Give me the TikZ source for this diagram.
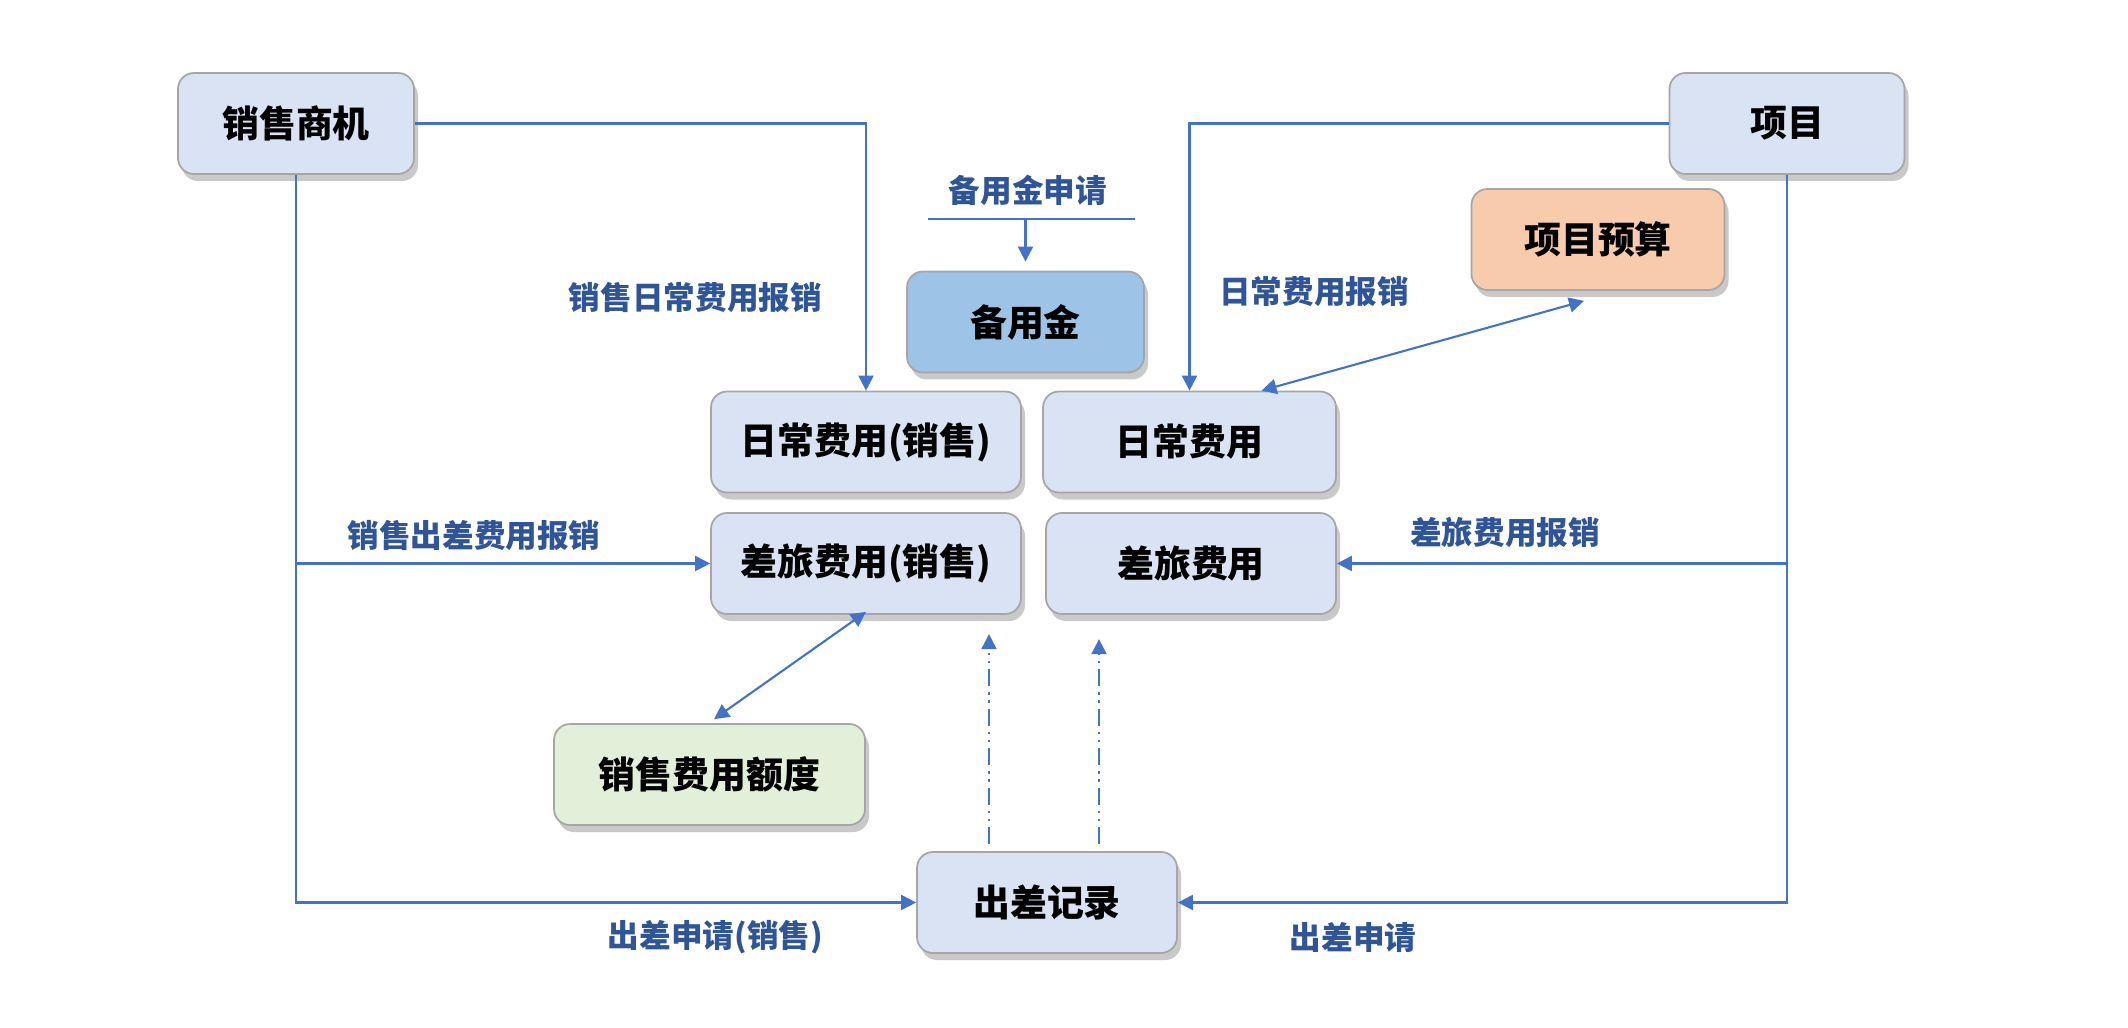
\documentclass[tikz,border=0pt]{standalone}
\usepackage{fontspec}
\setmainfont{Noto Sans CJK SC}
\usepackage{xcolor}
\usetikzlibrary{arrows.meta}
\usetikzlibrary{shadows}

\definecolor{lineblue}{HTML}{4472C4}
\definecolor{labblue}{HTML}{2F5597}
\definecolor{boxblue}{HTML}{DAE3F3}
\definecolor{boxline}{HTML}{A6A6A6}
\definecolor{fundblue}{HTML}{9DC3E6}
\definecolor{budgetorange}{HTML}{F8CBAD}
\definecolor{quotagreen}{HTML}{E2F0D9}

\begin{document}
\begin{tikzpicture}[scale=1,
  box/.style={draw=boxline, line width=0.5pt, rounded corners=1.6mm, fill=boxblue, inner sep=0pt,
    minimum height=1.01cm, font=\bfseries\fontsize{10.5}{12}\selectfont,
    drop shadow={shadow xshift=0.4mm, shadow yshift=-0.7mm, opacity=0.3, fill=black!70}},
  lab/.style={text=labblue, font=\bfseries\fontsize{9}{11}\selectfont},
  flow/.style={draw=lineblue, line width=0.6pt, -{Triangle[length=1.5mm,width=1.5mm]}},
  both/.style={flow, {Triangle[length=1.5mm,width=1.5mm]}-{Triangle[length=1.5mm,width=1.5mm]}},
  rec/.style={flow, dash pattern=on 1.7mm off 0.6mm on 0.25mm off 0.55mm on 0.25mm off 0.6mm}]
\useasboundingbox (0,0) rectangle (21.28,10.27);
\node[box, minimum width=2.36cm] (shangji) at (2.96,9.035) {销售商机};
\node[box, minimum width=2.35cm] (xiangmu) at (17.87,9.035) {项目};
\node[box, minimum width=2.37cm, fill=fundblue] (beiyongjin) at (10.255,7.05) {备用金};
\node[box, minimum width=2.53cm, fill=budgetorange] (yusuan) at (15.98,7.875) {项目预算};
\node[box, minimum width=3.10cm] (richangxs) at (8.66,5.85) {日常费用(销售)};
\node[box, minimum width=2.93cm] (richang) at (11.895,5.85) {日常费用};
\node[box, minimum width=3.10cm] (chailvxs) at (8.66,4.635) {差旅费用(销售)};
\node[box, minimum width=2.90cm] (chailv) at (11.91,4.635) {差旅费用};
\node[box, minimum width=3.11cm, fill=quotagreen] (edu) at (7.095,2.525) {销售费用额度};
\node[box, minimum width=2.60cm] (jilu) at (10.47,1.245) {出差记录};

\node[lab] (fundreq) at (10.28,8.37) {备用金申请};
\node[lab] (salesdaily) at (6.955,7.30) {销售日常费用报销};
\node[lab] (daily) at (13.14,7.35) {日常费用报销};
\node[lab] (salestrip) at (4.74,4.92) {销售出差费用报销};
\node[lab] (trip) at (15.05,4.94) {差旅费用报销};
\node[lab] (salesapply) at (7.155,0.90) {出差申请(销售)};
\node[lab] (apply) at (13.53,0.90) {出差申请};

\coordinate (fundl) at (9.28,8.08);
\coordinate (fundr) at (11.35,8.08);
\draw[lineblue, line width=0.6pt] (fundl) -- (fundr);
\draw[flow] (beiyongjin.north |- fundl) -- ([yshift=0.9mm]beiyongjin.north);

\draw[flow] (shangji.east) -| (richangxs.north);
\draw[flow] (xiangmu.west) -| (richang.north);
\draw[both] ([xshift=-1.4mm,yshift=-1mm]yusuan.south) -- ([xshift=7.2mm]richang.north);
\draw[both] ([yshift=0.3mm]chailvxs.south) -- ([xshift=0.45mm,yshift=0.4mm]edu.north);

\draw[flow] (shangji.south) |- (jilu.west);
\draw[flow] (shangji.south |- chailvxs.west) -- (chailvxs.west);
\draw[flow] (xiangmu.south) |- (jilu.east);
\draw[flow] (xiangmu.south |- chailv.east) -- (chailv.east);

\draw[rec] ([xshift=-5.8mm,yshift=0.7mm]jilu.north) -- ++(0,2.1);
\draw[rec] ([xshift=5.2mm,yshift=0.7mm]jilu.north) -- ++(0,2.05);
\end{tikzpicture}
\end{document}
